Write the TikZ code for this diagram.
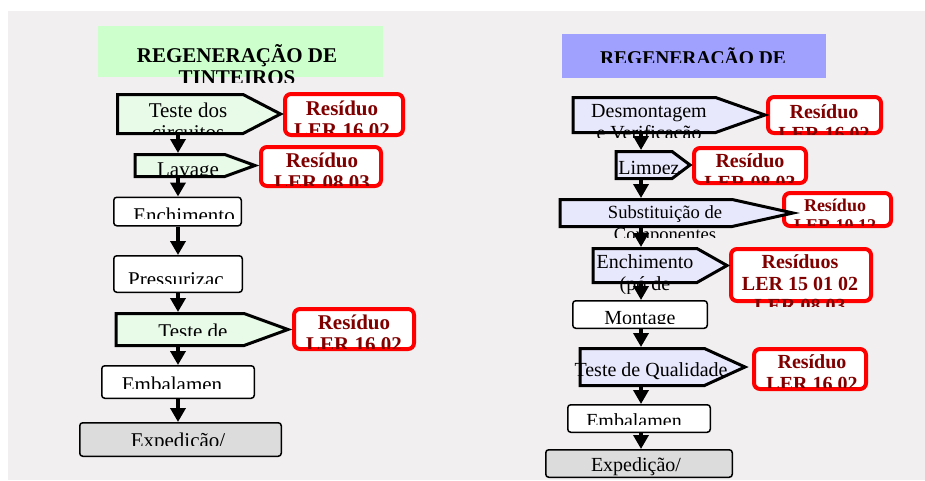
\documentclass[tikz,border=0pt]{standalone}
\usepackage{fontspec}
\setmainfont{Liberation Serif}
\usepackage{tikz}
\usetikzlibrary{arrows.meta}
\usetikzlibrary{shapes.symbols}

\definecolor{bgpaper}{HTML}{F2EFF0}
\definecolor{titlegreen}{HTML}{CCFFCC}
\definecolor{titleblue}{HTML}{A0A0FF}
\definecolor{greenstep}{HTML}{E8FAE8}
\definecolor{bluestep}{HTML}{E8E8FC}
\definecolor{grayend}{HTML}{DCDCDC}
\definecolor{resred}{HTML}{800000}

% text cut off at the bottom like in the slide
\newcommand{\cuttext}[6]{%
  \begin{scope}
    \clip (#2-150,#3-40) rectangle (#2+150,#4);
    \node[inner sep=0pt, anchor=base, #5] (#1) at (#2,#3) {\begin{tabular}[t]{@{}c@{}}#6\end{tabular}};
  \end{scope}}

\begin{document}
\begin{tikzpicture}[x=1pt,y=-1pt,
    stepL/.style={signal, signal to=east, draw, line width=3pt, fill=greenstep, inner sep=0pt, anchor=west},
    stepR/.style={stepL, fill=bluestep},
    plainbox/.style={draw, line width=1.5pt, rounded corners=3pt, fill=white, inner sep=0pt},
    endbox/.style={plainbox, fill=grayend},
    resbox/.style={draw=red, line width=4pt, rounded corners=6pt, fill=white, inner sep=0pt},
    flow/.style={line width=3.5pt, -{Triangle[width=15pt,length=14pt]}},
    lbl/.style={font=\fontsize{21}{22}\selectfont},
    rlbl/.style={font=\fontsize{20}{22}\selectfont},
    reslbl/.style={font=\fontsize{21}{22}\selectfont\bfseries, text=resred},
    rreslbl/.style={font=\fontsize{20}{22}\selectfont\bfseries, text=resred},
    titlelbl/.style={font=\fontsize{21}{22}\selectfont\bfseries}]
  \useasboundingbox (0,0) rectangle (925,480);
  \fill[bgpaper] (8,11) rectangle (925,480);

  % left: tinteiros
  \node[fill=titlegreen, minimum width=285pt, minimum height=51pt] (ltitle) at (240.5,51.5) {};
  \node[resbox, minimum width=118pt, minimum height=41pt] (lres1) at (344,114.5) {};
  \node[resbox, minimum width=120pt, minimum height=39pt] (lres2) at (321,166.5) {};
  \node[resbox, minimum width=120pt, minimum height=40pt] (lres3) at (354,329) {};
  \node[stepL, minimum width=163pt, minimum height=39pt, signal pointer angle=55] (lteste) at (116,114) {};
  \node[stepL, minimum width=120pt, minimum height=22pt, signal pointer angle=40] (llav) at (133.5,165.5) {};
  \node[plainbox, minimum width=127.5pt, minimum height=28.5pt] (lench) at (177.5,211.5) {};
  \node[plainbox, minimum width=128.5pt, minimum height=36.5pt] (lpress) at (178,274) {};
  \node[stepL, minimum width=172pt, minimum height=32pt, signal pointer angle=40] (lqual) at (114.5,329.5) {};
  \node[plainbox, minimum width=152.5pt, minimum height=32.5pt] (lemb) at (178,382) {};
  \node[endbox, minimum width=201.5pt, minimum height=33.5pt] (lexp) at (180.5,439.5) {};

  % right: toners
  \node[fill=titleblue, minimum width=264pt, minimum height=44pt] (rtitle) at (694,56) {};
  \node[resbox, minimum width=113pt, minimum height=36pt] (rres1) at (824.5,115) {};
  \node[resbox, minimum width=112pt, minimum height=35pt] (rres2) at (750,165.5) {};
  \node[resbox, minimum width=107pt, minimum height=33pt] (rres3) at (837.5,209.5) {};
  \node[resbox, minimum width=140pt, minimum height=52pt] (rres4) at (801,275) {};
  \node[resbox, minimum width=112pt, minimum height=40pt] (rres5) at (810,369) {};
  \node[stepR, minimum width=192pt, minimum height=35pt, signal pointer angle=39] (rdesm) at (571.5,115) {};
  \node[stepR, minimum width=74pt, minimum height=27pt, signal pointer angle=74] (rlimp) at (614.5,165) {};
  \node[stepR, minimum width=233pt, minimum height=27pt, signal pointer angle=25] (rsubst) at (558.5,213) {};
  \node[stepR, minimum width=134pt, minimum height=34pt, signal pointer angle=59] (rench) at (591.5,265.5) {};
  \node[plainbox, minimum width=134.5pt, minimum height=27.5pt] (rmont) at (640,314.5) {};
  \node[stepR, minimum width=165pt, minimum height=37pt, signal pointer angle=49] (rqual) at (578.5,367) {};
  \node[plainbox, minimum width=142.5pt, minimum height=27.5pt] (remb) at (639,418.5) {};
  \node[endbox, minimum width=186.5pt, minimum height=27.5pt] (rexp) at (639,463.5) {};

  % texts
  \cuttext{ltitletxt}{237}{62}{82}{titlelbl}{REGENERAÇÃO DE\\TINTEIROS}
  \cuttext{ltestetxt}{188}{117}{133}{lbl}{Teste dos\\circuitos}
  \cuttext{lres1txt}{342}{115}{132}{reslbl}{Resíduo\\LER 16 02}
  \cuttext{llavtxt}{188}{176}{174}{lbl}{Lavage}
  \cuttext{lres2txt}{322}{167}{185}{reslbl}{Resíduo\\LER 08 03}
  \cuttext{lenchtxt}{184}{222}{218}{lbl}{Enchimento}
  \cuttext{lpresstxt}{176}{286}{283}{lbl}{Pressurizac}
  \cuttext{lqualtxt}{193}{338}{335}{lbl}{Teste de}
  \cuttext{lres3txt}{354}{329}{348}{reslbl}{Resíduo\\LER 16 02}
  \cuttext{lembtxt}{172}{391}{388}{lbl}{Embalamen}
  \cuttext{lexptxt}{178}{447}{445}{lbl}{Expedição/}

  \cuttext{rtitletxt}{693}{64}{62}{titlelbl, font=\fontsize{19.5}{22}\selectfont\bfseries}{REGENERAÇÃO DE}
  \cuttext{rdesmtxt}{649}{117}{137}{rlbl}{Desmontagem\\e Verificação}
  \cuttext{rres1txt}{824}{118}{134}{rreslbl}{Resíduo\\LER 16 02}
  \cuttext{rlimptxt}{649}{174}{173}{rlbl}{Limpez}
  \cuttext{rres2txt}{750}{167}{182}{rreslbl}{Resíduo\\LER 08 03}
  \cuttext{rsubsttxt}{665}{218}{237}{font=\fontsize{18.6}{22}\selectfont}{Substituição de\\Componentes}
  \cuttext{rres3txt}{835}{211}{225}{rreslbl, font=\fontsize{18}{20}\selectfont\bfseries}{Resíduo\\LER 10 12}
  \cuttext{renchtxt}{645}{268}{293}{rlbl}{Enchimento\\(pó de}
  \cuttext{rres4txt}{800}{268}{306}{rreslbl}{Resíduos\\LER 15 01 02\\LER 08 03}
  \cuttext{rmonttxt}{640}{324}{323}{rlbl}{Montage}
  \cuttext{rqualtxt}{651}{376}{400}{rlbl}{Teste de Qualidade}
  \cuttext{rres5txt}{812}{368}{387}{rreslbl}{Resíduo\\LER 16 02}
  \cuttext{rembtxt}{634}{427}{424}{rlbl}{Embalamen}
  \cuttext{rexptxt}{636}{471}{480}{rlbl}{Expedição/}

  % flow arrows
  \coordinate (colL) at (178,0);
  \coordinate (colR) at (641,0);
  \draw[flow] (lteste.south -| colL) -- (llav.north -| colL);
  \draw[flow] (llav.south -| colL) -- (lench.north -| colL);
  \draw[flow] (lench.south -| colL) -- (lpress.north -| colL);
  \draw[flow] (lpress.south -| colL) -- (lqual.north -| colL);
  \draw[flow] (lqual.south -| colL) -- (lemb.north -| colL);
  \draw[flow] (lemb.south -| colL) -- (lexp.north -| colL);
  \draw[flow] (rdesm.south -| colR) -- (rlimp.north -| colR);
  \draw[flow] (rlimp.south -| colR) -- (rsubst.north -| colR);
  \draw[flow] (rsubst.south -| colR) -- (rench.north -| colR);
  \draw[flow] (rench.south -| colR) -- (rmont.north -| colR);
  \draw[flow] (rmont.south -| colR) -- (rqual.north -| colR);
  \draw[flow] (rqual.south -| colR) -- (remb.north -| colR);
  \draw[flow] (remb.south -| colR) -- (rexp.north -| colR);
\end{tikzpicture}
\end{document}
